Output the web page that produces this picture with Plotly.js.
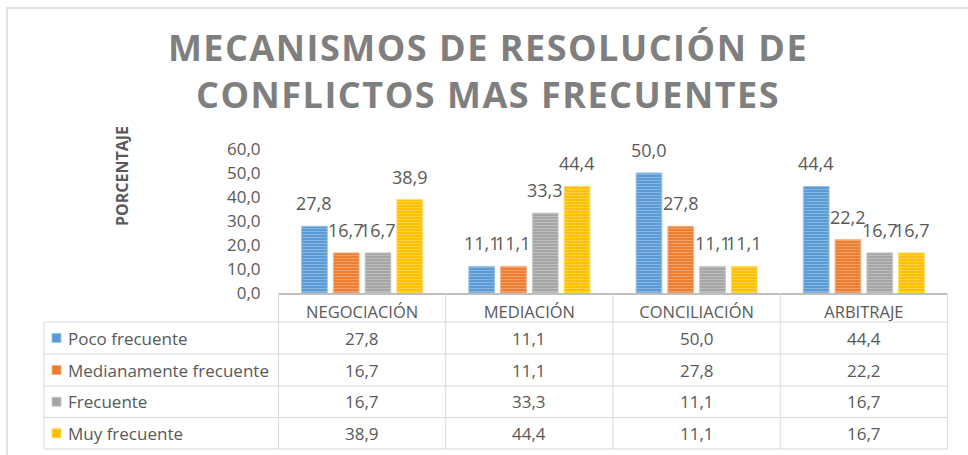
<!DOCTYPE html>
<html>
<head>
<meta charset="utf-8">
<script src="https://cdn.plot.ly/plotly-3.0.1.min.js"></script>
<style>
  html, body { margin: 0; padding: 0; background: #ffffff; }
  #chart { width: 968px; height: 455px; }
  .gtitle { letter-spacing: 1.5px; }
</style>
</head>
<body>
<div id="chart"></div>
<script>
// ---- data ----
const categories = ['NEGOCIACIÓN', 'MEDIACIÓN', 'CONCILIACIÓN', 'ARBITRAJE'];
const seriesNames = ['Poco frecuente', 'Medianamente frecuente', 'Frecuente', 'Muy frecuente'];
const pocoFrecuente = [27.8, 11.1, 50.0, 44.4];
const medianamenteFrecuente = [16.7, 11.1, 27.8, 22.2];
const frecuente = [16.7, 33.3, 11.1, 16.7];
const muyFrecuente = [38.9, 44.4, 11.1, 16.7];
const yTicks = [0, 10, 20, 30, 40, 50, 60];

// ---- styles ----
const baseColors = ['#5b9bd5', '#ed7d31', '#a5a5a5', '#ffc000'];
const edgeColors = ['#9dc3e6', '#f4b183', '#c9c9c9', '#ffd966'];
const textGray = '#595959';
const font = '"Open Sans", "Liberation Sans", sans-serif';
const BARGAP = 0.24, BARGROUPGAP = 0.19;

const allSeries = [pocoFrecuente, medianamenteFrecuente, frecuente, muyFrecuente];

// plot geometry (pixels) for converting to paper coordinates
const L = 278, R = 948, T = 149, B = 293, W = 968, H = 455;
const xp = px => (px - L) / (R - L);
const yp = py => (B - py) / (B - T);

const traces = allSeries.map((vals, i) => ({
  type: 'bar',
  name: seriesNames[i],
  x: categories,
  y: vals,
  marker: {
    color: baseColors[i],
    line: { color: edgeColors[i], width: 1 },
    pattern: { shape: '-', bgcolor: baseColors[i], fgcolor: 'rgba(255,255,255,0.55)', size: 3, solidity: 0.35, fillmode: 'overlay' }
  },
  hoverinfo: 'x+y'
}));

const fmt = v => v.toFixed(1).replace('.', ',');

const shapes = [];
const annotations = [];
const lineColor = '#d9d9d9';

// bar value labels (positioned from data on the category axis)
const slot = (1 - BARGAP) / allSeries.length;
allSeries.forEach((vals, i) => {
  vals.forEach((v, j) => annotations.push({
    xref: 'x', yref: 'y', x: j + (i - (allSeries.length - 1) / 2) * slot, y: v,
    text: fmt(v), showarrow: false, xanchor: 'center', yanchor: 'bottom', yshift: 9,
    font: { family: font, size: 18, color: textGray }
  }));
});

// outer chart frame
shapes.push({ type: 'rect', xref: 'paper', yref: 'paper',
  x0: xp(7), x1: xp(975), y0: yp(470), y1: yp(8),
  line: { color: '#d9d9d9', width: 1.5 }, fillcolor: 'rgba(0,0,0,0)', layer: 'below' });

// table grid
const rowEdges = [322, 354, 386, 417.5, 449];
const rowCenters = [338, 370, 401.75, 433.25];
rowEdges.forEach(py => shapes.push({ type: 'line', xref: 'paper', yref: 'paper',
  x0: xp(44), x1: xp(948), y0: yp(py), y1: yp(py), line: { color: lineColor, width: 1 } }));
shapes.push({ type: 'line', xref: 'paper', yref: 'paper', x0: xp(44), x1: xp(44),
  y0: yp(322), y1: yp(449), line: { color: lineColor, width: 1 } });
for (let j = 0; j <= categories.length; j++) {
  shapes.push({ type: 'line', xref: 'x', yref: 'paper', x0: j - 0.5, x1: j - 0.5,
    y0: 0, y1: yp(449), line: { color: lineColor, width: 1 } });
}

// table cells
allSeries.forEach((vals, i) => {
  vals.forEach((v, j) => annotations.push({
    xref: 'x', yref: 'paper', x: j, y: yp(rowCenters[i]), text: fmt(v),
    showarrow: false, xanchor: 'center', yanchor: 'middle',
    font: { family: font, size: 17, color: textGray }
  }));
  // legend key + name
  shapes.push({ type: 'rect', xref: 'paper', yref: 'paper',
    x0: xp(52), x1: xp(61), y0: yp(rowCenters[i] + 4.5), y1: yp(rowCenters[i] - 4.5),
    fillcolor: baseColors[i], line: { color: edgeColors[i], width: 1 } });
  annotations.push({ xref: 'paper', yref: 'paper', x: xp(66), y: yp(rowCenters[i]),
    text: seriesNames[i], showarrow: false, xanchor: 'left', yanchor: 'middle',
    font: { family: font, size: 17, color: textGray } });
});

// y axis title
annotations.push({ xref: 'paper', yref: 'paper', x: xp(122), y: yp(176),
  text: '<b>PORCENTAJE</b>', textangle: -90, showarrow: false,
  xanchor: 'center', yanchor: 'middle', font: { family: font, size: 16, color: textGray } });

const layout = {
  width: W, height: H,
  margin: { l: L, r: W - R, t: T, b: H - B, pad: 0 },
  paper_bgcolor: '#ffffff', plot_bgcolor: '#ffffff',
  separators: ', ',
  showlegend: false,
  barmode: 'group',
  bargap: BARGAP,
  bargroupgap: BARGROUPGAP,
  title: {
    text: '<b>MECANISMOS DE RESOLUCIÓN DE<br>CONFLICTOS MAS FRECUENTES</b>',
    font: { family: font, size: 36, color: '#7f7f7f' },
    xref: 'container', yref: 'container', x: 488 / W, xanchor: 'center',
    y: 1 - 61 / H, yanchor: 'top'
  },
  xaxis: {
    type: 'category', showgrid: false, zeroline: false,
    showline: true, linecolor: '#bfbfbf', linewidth: 1.5,
    ticks: 'outside', ticklen: 4, tickcolor: 'rgba(0,0,0,0)',
    tickfont: { family: font, size: 16.5, color: textGray },
    fixedrange: true
  },
  yaxis: {
    range: [0, 60], tickvals: yTicks, tickformat: '.1f',
    showgrid: false, zeroline: false, showline: false,
    ticks: 'outside', ticklen: 13, tickcolor: 'rgba(0,0,0,0)',
    tickfont: { family: font, size: 17, color: textGray },
    fixedrange: true
  },
  shapes: shapes,
  annotations: annotations
};

Plotly.newPlot('chart', traces, layout, { displayModeBar: false, staticPlot: true });
</script>
</body>
</html>
